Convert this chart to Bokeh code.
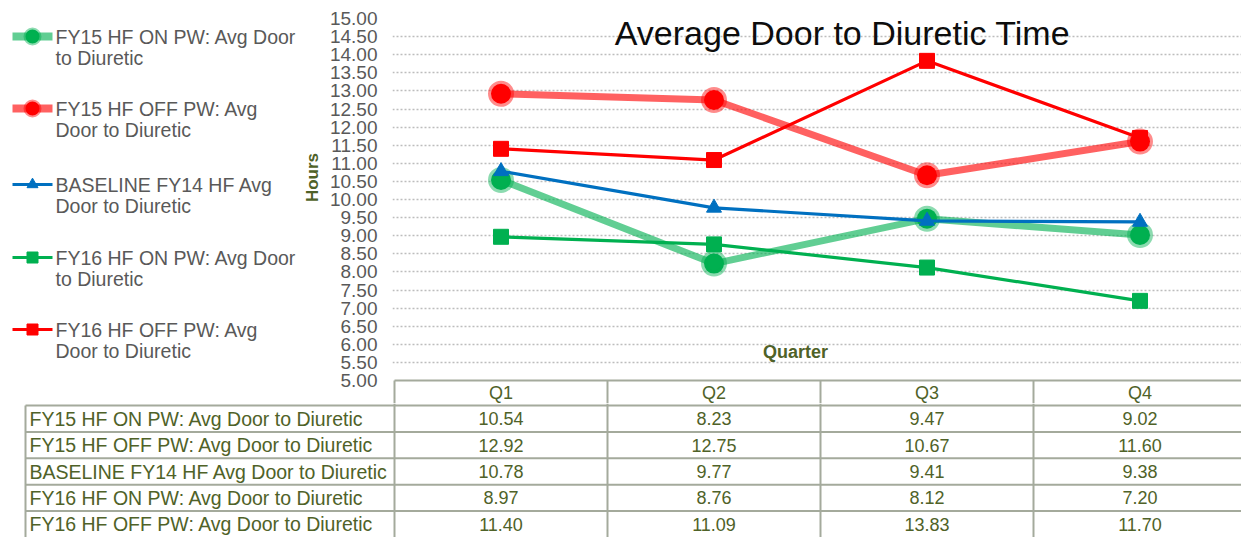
import textwrap
from bokeh.plotting import figure
from bokeh.layouts import column, row
from bokeh.models import Range1d, FixedTicker, PrintfTickFormatter, Label
from bokeh.core.properties import value
from bokeh.embed import file_html
from bokeh.resources import INLINE

# ---------------- data ----------------
quarters = ["Q1", "Q2", "Q3", "Q4"]
series_names = [
    "FY15 HF ON PW: Avg Door to Diuretic",
    "FY15 HF OFF PW: Avg Door to Diuretic",
    "BASELINE FY14 HF Avg Door to Diuretic",
    "FY16 HF ON PW: Avg Door to Diuretic",
    "FY16 HF OFF PW: Avg Door to Diuretic",
]
fy15_on = [10.54, 8.23, 9.47, 9.02]
fy15_off = [12.92, 12.75, 10.67, 11.60]
baseline_fy14 = [10.78, 9.77, 9.41, 9.38]
fy16_on = [8.97, 8.76, 8.12, 7.20]
fy16_off = [11.40, 11.09, 13.83, 11.70]
y_ticks = [5.0, 5.5, 6.0, 6.5, 7.0, 7.5, 8.0, 8.5, 9.0, 9.5, 10.0,
           10.5, 11.0, 11.5, 12.0, 12.5, 13.0, 13.5, 14.0, 14.5, 15.0]
y_min, y_max = 5.0, 15.0
title_text = "Average Door to Diuretic Time"
x_title = "Quarter"
y_title = "Hours"

series_values = [fy15_on, fy15_off, baseline_fy14, fy16_on, fy16_off]

# ---------------- styles ----------------
styles = [
    dict(color="#00B050", lw=7, alpha=0.62, marker="circle", size=20, halo=True),
    dict(color="#FF0000", lw=7, alpha=0.62, marker="circle", size=20, halo=True),
    dict(color="#0070C0", lw=3.2, alpha=1.0, marker="triangle", size=15, halo=False),
    dict(color="#00B050", lw=3.2, alpha=1.0, marker="square", size=15, halo=False),
    dict(color="#FF0000", lw=3.2, alpha=1.0, marker="square", size=15, halo=False),
]
FONT = value("Liberation Sans")
GRAY = "#595959"
OLIVE = "#4F6228"
BORDER = "#A4AA9C"

# ---------------- layout geometry (page px) ----------------
PAGE_L, PAGE_R, PAGE_T, PAGE_B = 0, 1241, 0, 537
LEG_R = 322            # right edge of the legend figure
FRAME_L = 392          # chart frame left
X0 = 394               # page x of category boundary 0
COL_W = 213            # px per quarter
Y_TOP = 18             # page y of y_max
Y_BOT = 380            # page y of y_min
SPLIT = 403            # boundary between chart figure and table figure
PX_PER_UNIT = (Y_BOT - Y_TOP) / (y_max - y_min)

x_pos = [i + 0.5 for i in range(len(quarters))]

def cx(px):  # page x -> chart data x
    return (px - X0) / COL_W

def cy(py):  # page y -> chart data y
    return y_max - (py - Y_TOP) / PX_PER_UNIT

# ---------------- chart figure ----------------
chart = figure(
    width=PAGE_R - LEG_R, height=SPLIT - PAGE_T,
    x_range=Range1d(cx(FRAME_L), cx(PAGE_R)),
    y_range=Range1d(cy(SPLIT), y_max),
    x_axis_location=None,
    min_border_left=FRAME_L - LEG_R, min_border_right=0,
    min_border_top=Y_TOP - PAGE_T, min_border_bottom=0,
    output_backend="svg", toolbar_location=None,
)
chart.outline_line_color = None
chart.background_fill_color = "white"
chart.border_fill_color = "white"
chart.xgrid.visible = False
chart.ygrid.ticker = FixedTicker(ticks=y_ticks[1:])
chart.ygrid.grid_line_color = "#BDBDBD"
chart.ygrid.grid_line_dash = "2 2"
chart.ygrid.grid_line_width = 1.5

yax = chart.yaxis[0]
yax.ticker = FixedTicker(ticks=y_ticks)
yax.formatter = PrintfTickFormatter(format="%.2f")
yax.major_label_text_font = "Liberation Sans"
yax.major_label_text_font_size = "19px"
yax.major_label_text_color = GRAY
yax.major_tick_out = 0
yax.major_tick_in = 0
yax.minor_tick_out = 0
yax.minor_tick_in = 0
yax.axis_line_color = None
yax.major_label_standoff = FRAME_L - 377

# table header row (top border, column borders, quarter names) inside the chart figure
chart.segment(x0=[0], y0=[y_min], x1=[cx(PAGE_R)], y1=[y_min],
              line_color=BORDER, line_width=2)
chart.segment(x0=list(range(len(quarters))), y0=[y_min] * len(quarters),
              x1=list(range(len(quarters))), y1=[cy(SPLIT)] * len(quarters),
              line_color=BORDER, line_width=2)
chart.text(x=x_pos, y=[cy(392.5)] * len(quarters), text=quarters, text_font=FONT,
           text_font_size=value("18px"), text_color=OLIVE,
           text_align="center", text_baseline="middle")

for vals, st in zip(series_values, styles):
    chart.line(x_pos, vals, line_color=st["color"], line_width=st["lw"],
               line_alpha=st["alpha"], line_join="round")
    if st["halo"]:
        chart.scatter(x_pos, vals, marker=st["marker"], size=st["size"],
                      fill_color=st["color"], line_color=st["color"],
                      line_alpha=0.45, line_width=6)
    else:
        chart.scatter(x_pos, vals, marker=st["marker"], size=st["size"],
                      fill_color=st["color"], line_color=st["color"], line_width=1)

chart.add_layout(Label(x=cx(842), y=cy(32), text=title_text, text_align="center",
                       text_baseline="alphabetic", text_font="Liberation Sans",
                       text_font_size="34px", text_color="#0D0D0D"))
chart.add_layout(Label(x=cx(795), y=cy(351), text=x_title, text_align="center",
                       text_baseline="alphabetic", text_font="Liberation Sans",
                       text_font_size="18px", text_font_style="bold", text_color=OLIVE))

# ---------------- legend figure ----------------
leg = figure(
    width=LEG_R - PAGE_L, height=SPLIT - PAGE_T,
    x_range=Range1d(PAGE_L, LEG_R), y_range=Range1d(SPLIT, Y_TOP),
    x_axis_location=None, y_axis_location=None,
    min_border_left=0, min_border_right=0,
    min_border_top=Y_TOP - PAGE_T, min_border_bottom=0,
    output_backend="svg", toolbar_location=None,
)
leg.outline_line_color = None
leg.grid.visible = False
leg_rows = [36, 108, 184, 257, 329]
for name, st, yy in zip(series_names, styles, leg_rows):
    leg.line([12, 52], [yy, yy], line_color=st["color"],
             line_width=st["lw"] + (1 if st["halo"] else 0), line_alpha=st["alpha"])
    if st["halo"]:
        leg.scatter([32], [yy], marker="circle", size=14, fill_color=st["color"],
                    line_color=st["color"], line_alpha=0.45, line_width=4)
    else:
        leg.scatter([32], [yy], marker=st["marker"], size=11, fill_color=st["color"],
                    line_color=st["color"])
    lines = textwrap.wrap(name, 23)
    leg.text(x=[55] * len(lines), y=[yy + 21 * k for k in range(len(lines))], text=lines,
             text_font=FONT, text_font_size=value("19.5px"), text_color=GRAY,
             text_baseline="middle", text_align="left")

# y-axis title (rotated), placed just left of the tick labels
leg.text(x=[312], y=[177], text=[y_title], angle=1.5707963, text_font=FONT,
         text_font_size=value("17px"), text_font_style="bold", text_color=OLIVE,
         text_align="center", text_baseline="middle")

# ---------------- table figure ----------------
tab = figure(
    width=PAGE_R - PAGE_L, height=PAGE_B - SPLIT,
    x_range=Range1d(cx(PAGE_L), cx(PAGE_R)), y_range=Range1d(PAGE_B, SPLIT),
    x_axis_location=None, y_axis_location=None, min_border=0,
    output_backend="svg", toolbar_location=None,
)
tab.outline_line_color = None
tab.grid.visible = False
HEAD_B = 405
ROW_H = 26.4
row_tops = [HEAD_B + ROW_H * k for k in range(len(series_names))]
row_mid = [t + ROW_H / 2 for t in row_tops]
LBL_L = cx(25)

tab.segment(x0=[LBL_L] * len(row_tops), y0=row_tops,
            x1=[cx(PAGE_R)] * len(row_tops), y1=row_tops,
            line_color=BORDER, line_width=2)
tab.segment(x0=list(range(len(quarters))), y0=[SPLIT] * len(quarters),
            x1=list(range(len(quarters))), y1=[PAGE_B] * len(quarters),
            line_color=BORDER, line_width=2)
tab.segment(x0=[LBL_L], y0=[HEAD_B], x1=[LBL_L], y1=[PAGE_B],
            line_color=BORDER, line_width=2)

tab.text(x=[cx(29)] * len(series_names), y=row_mid, text=series_names, text_font=FONT,
         text_font_size=value("19.5px"), text_color=OLIVE,
         text_align="left", text_baseline="middle")
for vals, ym in zip(series_values, row_mid):
    tab.text(x=x_pos, y=[ym] * len(vals), text=["%.2f" % v for v in vals],
             text_font=FONT, text_font_size=value("18px"), text_color=OLIVE,
             text_align="center", text_baseline="middle")

layout = column(row(leg, chart), tab)
open("out.html", "w").write(file_html(layout, INLINE))
